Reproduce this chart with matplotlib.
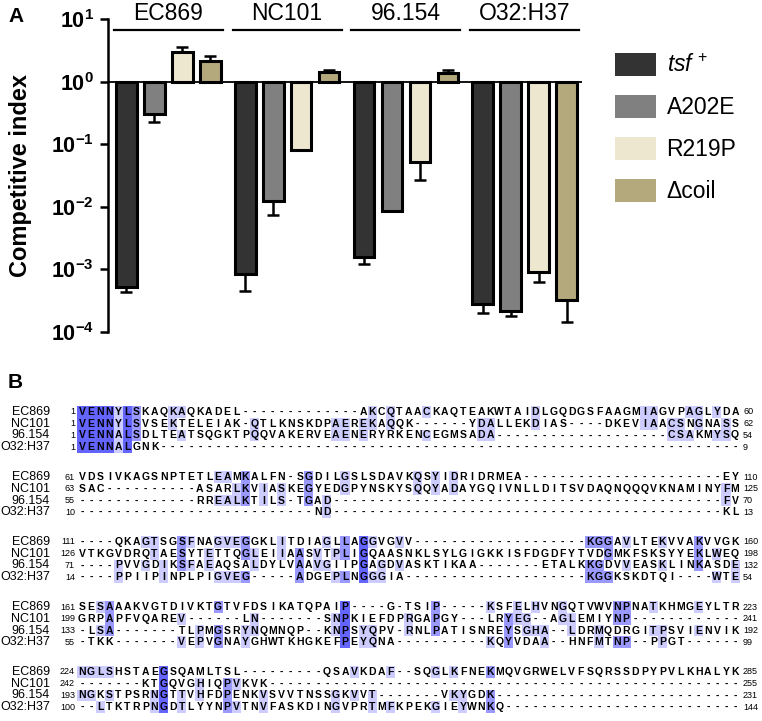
import numpy as np
import matplotlib
matplotlib.use('Agg')
import matplotlib.pyplot as plt
from matplotlib.patches import Patch, Rectangle

plt.rcParams['font.family'] = 'Liberation Sans'
plt.rcParams['mathtext.fontset'] = 'custom'
plt.rcParams['mathtext.rm'] = 'Liberation Sans'
plt.rcParams['mathtext.it'] = 'Liberation Sans:italic'
plt.rcParams['mathtext.bf'] = 'Liberation Sans:bold'

# ---- panel A : competitive index ----
strains = ['EC869', 'NC101', '96.154', 'O32:H37']
variants = [r'$\mathit{tsf}^{\,+}$', 'A202E', 'R219P', 'Δcoil']
bar_colors = ['#333333', '#808080', '#ede7d0', '#b3a97c']

ci_tsf = [5.2e-4, 8.3e-4, 1.55e-3, 2.75e-4]
ci_a202e = [0.30, 0.0125, 0.0085, 2.15e-4]
ci_r219p = [2.96, 0.081, 0.052, 9.1e-4]
ci_dcoil = [2.13, 1.42, 1.35, 3.2e-4]
# end of the (one-sided) error bar, None = not visible
err_tsf = [4.4e-4, 4.6e-4, 1.2e-3, 2.0e-4]
err_a202e = [0.23, 0.0075, None, 1.8e-4]
err_r219p = [3.55, None, 0.027, 6.4e-4]
err_dcoil = [2.56, 1.51, 1.53, 1.45e-4]

# ---- panel B : alignment ----
names = ['EC869', 'NC101', '96.154', 'O32:H37']
ec869 = ['VENNYLSKAQKAQKADEL' + '-' * 13 + 'AKCQTAACKAQTEAKWTAIDLGQDGSFAAGMIAGVPAGLYDA',
         'VDSIVKAGSNPTETLEAMKALFN-SGDILGSLSDAVKQSYIDRIDRMEA' + '-' * 22 + 'EY',
         '----QKAGTSGSFNAGVEGGKLITDIAGLLAGGVGVV' + '-' * 19 + 'KGGAVLTEKVVAKVVGK',
         'SESAAAKVGTDIVKTGTVFDSIKATQPAIP----G-TSIP-----KSFELHVNGQTVWVNPNATKHMGEYLTR',
         'NGLSHSTAEGSQAMLTSL---------QSAVKDAF--SQGLKFNEKMQVGRWELVFSQRSSDPYPVLKHALYK']
nc101 = ['VENNYLSVSEKTELEIAK-QTLKNSKDPAEREKAQQK------YDALLEKDIAS----DKEVIAACSNGNASS',
         'SAC' + '-' * 10 + 'ASARLKVIASKEGYEDGPYNSKYSQQYADAYGQIVNLLDITSVDAQNQQQVKNAMINYFM',
         'VTKGVDRQTAESYTETTQGLEIIAASVTPLIGQAASNKLSYLGIGKKISFDGDFYTVDGMKFSKSYYEKLWEQ',
         'GRPAPFVQAREV------LN-------SNPKIEFDPRGAPGY---LRYEG--AGLEMIYNP' + '-' * 12,
         '-------KTGQVGHIQPVKVK' + '-' * 52]
s96154 = ['VENNALSDLTEATSQGKTPQQVAKERVEAENERYRKENCEGMSADA' + '-' * 19 + 'CSAKMYSQ',
          '-' * 13 + 'RREALKTILS-TGAD' + '-' * 43 + 'FV',
          '----PVVGDIKSFAEAQSALDYLVAAVGIIPGAGDVASKTIKAA' + '-' * 7 + 'ETALKKGDVVEASKLINKASDE',
          '-LSA-------TLPMGSRYNQMNQP--KNPSYQPV-RNLPATISNREYSGHA--LDRMQDRGITPSVIENVIK',
          'NGKSTPSRNGTTVHFDPENKVSVVTNSSGKVVT-------VKYGDK' + '-' * 27]
o32h37 = ['VENNALGNK' + '-' * 64,
          '-' * 26 + 'ND' + '-' * 43 + 'KL',
          '----PPIIPINPLPIGVEG-----ADGEPLNGGGIA' + '-' * 20 + 'KGGKSKDTQI----WTE',
          '-TKK-------VEPVGNAYGHWTKHGKEFPEYQNA----------KQYVDAA--HNFMTNP--PPGT------',
          '--LTKTRPNGDTLYYNPVTNVFASKDINGVPRTMFKPEKGIEYWNKQ' + '-' * 26]
start_nums = [[1, 1, 1, 1], [61, 63, 55, 10], [111, 126, 71, 14], [161, 199, 133, 55], [224, 242, 193, 100]]
end_nums = [[60, 62, 54, 9], [110, 125, 70, 13], [160, 198, 132, 54], [223, 241, 192, 99], [285, 255, 231, 144]]

pid_colors = ['#6464ff', '#9999ff', '#ccccff']  # >80%, >60%, >40% identity

fig = plt.figure(figsize=(7.62, 7.21), dpi=100)

# panel A
ax = fig.add_axes([108 / 762, 1 - 332 / 721, 474 / 762, 313 / 721])
ax.set_yscale('log')
ax.set_ylim(1e-4, 1e1)
ax.set_xlim(-0.66, 16.3)
group_step = 4.25

series = [ci_tsf, ci_a202e, ci_r219p, ci_dcoil]
errs = [err_tsf, err_a202e, err_r219p, err_dcoil]
for j, (vals, ends) in enumerate(zip(series, errs)):
    x = np.arange(len(strains)) * group_step + j
    vals = np.array(vals)
    ax.bar(x, vals - 1, bottom=1, width=0.74, color=bar_colors[j], edgecolor='black',
           linewidth=2.2, zorder=3)
    for xi, v, e in zip(x, vals, ends):
        if e is None:
            continue
        if v < 1:
            yerr = [[v - e], [0]]
        else:
            yerr = [[0], [e - v]]
        ax.errorbar([xi], [v], yerr=yerr, fmt='none', ecolor='black', elinewidth=1.8,
                    capsize=4, capthick=1.8, zorder=2)

ax.axhline(1, color='black', lw=1.3, zorder=4)

for g, name in enumerate(strains):
    c = g * group_step + 1.5
    ax.plot([c - 1.95, c + 1.95], [6.7, 6.7], color='black', lw=1.6, clip_on=False)
    ax.text(c, 12.3, name, ha='center', va='center', fontsize=16.5, clip_on=False)

for s in ['top', 'right', 'bottom']:
    ax.spines[s].set_visible(False)
ax.spines['left'].set_linewidth(1.8)
ax.set_xticks([])
ticks = [1e-4, 1e-3, 1e-2, 1e-1, 1e0, 1e1]
ax.set_yticks(ticks)
ax.set_yticklabels([r'$\mathbf{10^{%d}}$' % int(np.log10(t)) for t in ticks], fontsize=15.5)
ax.minorticks_off()
ax.tick_params(axis='y', length=6, width=1.8, pad=4)
ax.set_ylabel('Competitive index', fontsize=17, fontweight='bold')
ax.yaxis.set_label_coords(-0.16, 0.5)

handles = [Patch(facecolor=c, edgecolor='none') for c in bar_colors]
fig.legend(handles, variants, loc='upper left', bbox_to_anchor=(615 / 762, 1 - 53 / 721),
           frameon=False, fontsize=16.5, handlelength=1.8, handleheight=1.15,
           handletextpad=0.45, labelspacing=0.78, borderpad=0, borderaxespad=0)

fig.text(8 / 762, 1 - 16 / 721, 'A', fontsize=15, fontweight='bold', va='center')
fig.text(8 / 762, 1 - 383 / 721, 'B', fontsize=15, fontweight='bold', va='center')

# panel B
axb = fig.add_axes([0, 0, 1, 361 / 721])
axb.set_xlim(0, 762)
axb.set_ylim(721, 360)
axb.axis('off')

x0, dx = 82.0, 9.07
y0, row_dy, block_dy = 412.0, 11.75, 65.0
seqs = [ec869, nc101, s96154, o32h37]

for b in range(5):
    rows = [s[b] for s in seqs]
    ncol = max(len(r) for r in rows)
    for col in range(ncol):
        chars = [r[col] if col < len(r) else '-' for r in rows]
        res = [ch for ch in chars if ch != '-']
        if res:
            counts = {ch: res.count(ch) for ch in set(res)}
            top = max(counts.values())
            pct = 100.0 * top / len(chars)
            if pct > 80:
                shade = pid_colors[0]
            elif pct > 60:
                shade = pid_colors[1]
            elif pct > 40:
                shade = pid_colors[2]
            else:
                shade = None
        else:
            shade = None
        for r, ch in enumerate(chars):
            y = y0 + b * block_dy + r * row_dy
            x = x0 + col * dx
            if shade is not None and ch != '-' and counts.get(ch, 0) == top:
                axb.add_patch(Rectangle((x - dx / 2, y - row_dy / 2), dx, row_dy,
                                        facecolor=shade, edgecolor='none', zorder=1))
            axb.text(x, y, ch, ha='center', va='center', fontsize=7.5, fontweight='bold', zorder=2)
    for r in range(4):
        y = y0 + b * block_dy + r * row_dy
        axb.text(50, y, names[r], ha='right', va='center', fontsize=9)
        axb.text(75, y, str(start_nums[b][r]), ha='right', va='center', fontsize=6.5)
        axb.text(743, y, str(end_nums[b][r]), ha='left', va='center', fontsize=6.5)

fig.savefig('out.png', dpi=100)
